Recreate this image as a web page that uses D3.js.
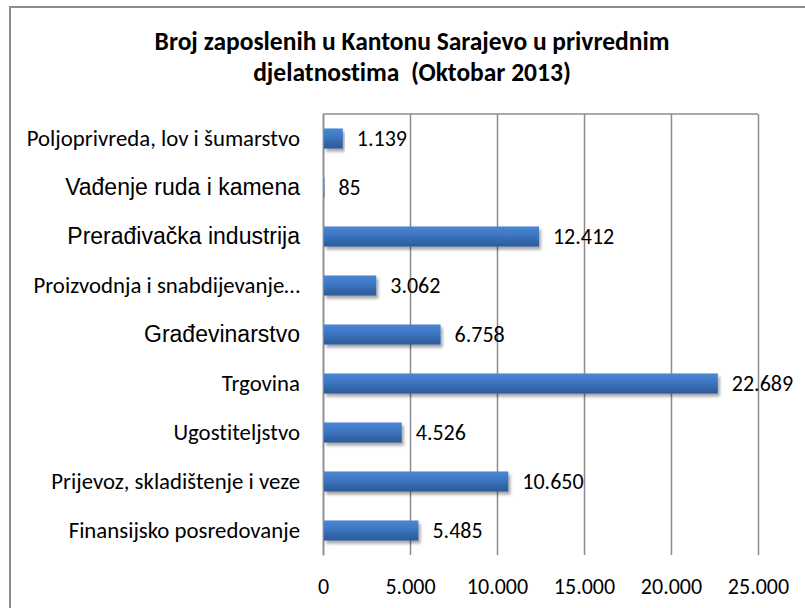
<!DOCTYPE html>
<html>
<head>
<meta charset="utf-8">
<script src="https://cdn.jsdelivr.net/npm/d3@7"></script>
<style>
  body { margin: 0; background: #fff; }
  text { font-variant-ligatures: none; }
</style>
</head>
<body>
<div id="chart"></div>
<script>
// chart data
var categories = [
    "Poljoprivreda, lov i šumarstvo",
    "Vađenje ruda i kamena",
    "Prerađivačka industrija",
    "Proizvodnja i snabdijevanje…",
    "Građevinarstvo",
    "Trgovina",
    "Ugostiteljstvo",
    "Prijevoz, skladištenje i veze",
    "Finansijsko posredovanje"
];
var values = [1139, 85, 12412, 3062, 6758, 22689, 4526, 10650, 5485];
// these three labels were typed in Arial in the original, the rest in Calibri
var arialLabels = ["Vađenje ruda i kamena", "Prerađivačka industrija", "Građevinarstvo"];
var xTicks = [0, 5000, 10000, 15000, 20000, 25000];
var titleLines = ["Broj zaposlenih u Kantonu Sarajevo u privrednim", "djelatnostima  (Oktobar 2013)"];

// layout constants
var width = 805,
    height = 608,
    plot = {left: 323, right: 758, top: 114, bottom: 555},
    calibri = "Carlito, Lato, 'Open Sans', sans-serif",
    arial = "'Liberation Sans', Arial, sans-serif",
    gridColor = "#8c8c8c";

// numbers with a dot as thousands separator
var fmt = d3.formatLocale({decimal: ",", thousands: ".", grouping: [3], currency: ["", ""]}).format(",d");

var svg = d3.select("#chart")
  .append("svg")
    .attr("width", width)
    .attr("height", height);

var defs = svg.append("defs");
var grad = defs.append("linearGradient")
    .attr("id", "barGrad")
    .attr("x1", 0).attr("y1", 0).attr("x2", 0).attr("y2", 1);
grad.append("stop").attr("offset", "0%").attr("stop-color", "#4a87d4");
grad.append("stop").attr("offset", "45%").attr("stop-color", "#3c75c0");
grad.append("stop").attr("offset", "100%").attr("stop-color", "#2b5997");

var shadow = defs.append("filter")
    .attr("id", "shadow")
    .attr("x", "-5%").attr("y", "-30%").attr("width", "115%").attr("height", "180%");
shadow.append("feDropShadow")
    .attr("dx", 2).attr("dy", 3).attr("stdDeviation", 1.8)
    .attr("flood-color", "#000").attr("flood-opacity", 0.35);

// outer chart frame (only top and left edge fall inside the picture)
svg.append("path")
    .attr("d", "M10," + (height + 5) + "V7H" + (width + 5))
    .attr("fill", "none")
    .attr("stroke", gridColor)
    .attr("stroke-width", 2);

// title
svg.append("text")
    .attr("x", 412)
    .attr("text-anchor", "middle")
    .attr("font-family", calibri)
    .attr("font-weight", "bold")
    .attr("font-size", "25.5px")
    .attr("fill", "#000")
  .selectAll("tspan")
    .data(titleLines)
    .enter()
    .append("tspan")
    .attr("x", 412)
    .attr("y", function(d, i) { return 50 + i * 31; })
    .attr("xml:space", "preserve")
    .style("white-space", "pre")
    .text(function(d) { return d; });

var x = d3.scaleLinear()
    .domain([0, 25000])
    .range([plot.left, plot.right]);

var y = d3.scaleBand()
    .domain(categories)
    .range([plot.top, plot.bottom])
    .paddingInner(0.59)
    .paddingOuter(0.295);

// vertical gridlines + tick labels
var xAxis = svg.append("g")
    .attr("transform", "translate(0," + plot.bottom + ")")
    .call(d3.axisBottom(x)
        .tickValues(xTicks)
        .tickSize(-(plot.bottom - plot.top))
        .tickPadding(23)
        .tickFormat(fmt));
xAxis.select(".domain").remove();
xAxis.selectAll(".tick line")
    .attr("stroke", gridColor)
    .attr("stroke-width", 1.5);
xAxis.selectAll(".tick text")
    .attr("font-family", calibri)
    .attr("font-size", "22px")
    .attr("fill", "#000");

// top edge of plot area
svg.append("line")
    .attr("x1", plot.left).attr("x2", plot.right)
    .attr("y1", plot.top).attr("y2", plot.top)
    .attr("stroke", gridColor)
    .attr("stroke-width", 1.5);

// category axis
var yAxis = svg.append("g")
    .attr("transform", "translate(" + plot.left + ",0)")
    .call(d3.axisLeft(y).tickSize(0).tickPadding(23));
yAxis.select(".domain")
    .attr("stroke", gridColor)
    .attr("stroke-width", 1.5);
yAxis.selectAll(".tick text")
    .attr("dy", null)
    .attr("y", 7)
    .attr("fill", "#000")
    .attr("font-family", function(d) { return arialLabels.indexOf(d) >= 0 ? arial : calibri; })
    .attr("font-size", function(d) { return arialLabels.indexOf(d) >= 0 ? "23px" : "22.8px"; });

// bars
svg.selectAll("rect.bar")
    .data(values)
    .enter()
    .append("rect")
    .attr("class", "bar")
    .attr("x", x(0) + 1)
    .attr("y", function(d, i) { return y(categories[i]); })
    .attr("width", function(d) { return x(d) - x(0) - 1; })
    .attr("height", y.bandwidth())
    .attr("fill", "url(#barGrad)")
    .attr("filter", "url(#shadow)");

// value labels
svg.selectAll("text.val")
    .data(values)
    .enter()
    .append("text")
    .attr("class", "val")
    .attr("x", function(d) { return x(d) + 14; })
    .attr("y", function(d, i) { return y(categories[i]) + y.bandwidth() / 2 + 7; })
    .attr("font-family", calibri)
    .attr("font-size", "22px")
    .attr("fill", "#000")
    .text(function(d) { return fmt(d); });
</script>
</body>
</html>
